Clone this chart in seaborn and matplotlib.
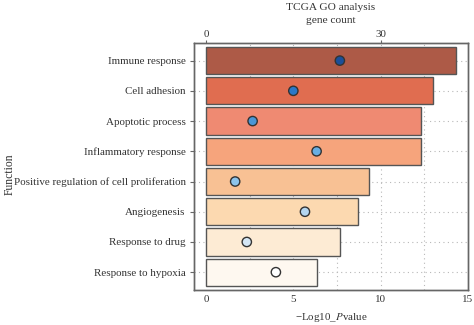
import matplotlib
matplotlib.use("Agg")
import matplotlib.pyplot as plt
import seaborn as sns
import pandas as pd

# GO terms, enrichment significance and gene counts
functions = [
    "Immune response",
    "Cell adhesion",
    "Apoptotic process",
    "Inflammatory response",
    "Positive regulation of cell proliferation",
    "Angiogenesis",
    "Response to drug",
    "Response to hypoxia",
]
neg_log10_p = [14.33, 13.0, 12.32, 12.32, 9.33, 8.69, 7.68, 6.34]
gene_count = [23, 15, 8, 19, 5, 17, 7, 12]

bar_colors = ["#ad5a47", "#e06d50", "#ef8a72", "#f6a47c",
              "#f8c194", "#fcd9b0", "#fdebd4", "#fef8f0"]
dot_colors = ["#1a4f9a", "#2a78c8", "#4a96d6", "#68aee3",
              "#8cc4ec", "#b4d6f0", "#d4e6f5", "#ffffff"]

df = pd.DataFrame({"Function": functions, "p": neg_log10_p, "count": gene_count})

sns.set_style("white")
plt.rcParams["font.family"] = ["Liberation Serif", "DejaVu Serif"]
plt.rcParams["mathtext.fontset"] = "stix"
text_color = "#333333"
frame_color = "#666666"
fs = 7.9

fig = plt.figure(figsize=(4.74, 3.25), dpi=100)
ax = fig.add_axes([0.409, 0.108, 0.578, 0.760])

# dotted grid underneath the bars
for gx in [2.5, 5, 7.5, 10, 12.5]:
    ax.axvline(gx, color="#b8b8b8", lw=0.8, ls=(0, (1, 3)), zorder=0)
for gy in range(len(functions)):
    ax.axhline(gy, color="#b8b8b8", lw=0.8, ls=(0, (1, 3)), zorder=0)

sns.barplot(data=df, y="Function", x="p", hue="Function", palette=bar_colors,
            legend=False, orient="h", width=0.9, edgecolor="#555555",
            linewidth=1.0, saturation=1, ax=ax, zorder=2)

ax.set_xlim(-0.7, 15)
ax.set_ylim(len(functions) - 0.414, -0.586)
ax.set_xticks([0, 5, 10, 15])
ax.set_xticklabels(["0", "5", "10", "15"])
ax.set_xlabel("\u2212Log10_$\\mathit{P}$value", fontsize=fs, color=text_color, labelpad=5)
ax.set_ylabel("Function", fontsize=fs + 0.5, color=text_color)
ax.yaxis.set_label_coords(-0.652, 0.47)
ax.tick_params(axis="y", labelsize=fs, colors=text_color, length=3, width=0.8,
               direction="out", left=True, color=frame_color, pad=3)
ax.tick_params(axis="x", labelsize=fs, colors=text_color, length=0, pad=4)

# gene counts on a twin top axis
ax2 = ax.twiny()
sns.scatterplot(data=df, x="count", y="Function", hue="Function", palette=dot_colors,
                legend=False, s=45, edgecolor="#333333", linewidth=1.0, ax=ax2, zorder=3)
ax2.set_xlim(-2.1, 45)
ax2.set_ylim(len(functions) - 0.414, -0.586)
ax2.set_xticks([0, 30])
ax2.set_xticklabels(["0", "30"])
ax2.set_xlabel("TCGA GO analysis\ngene count", fontsize=fs + 0.3, color=text_color,
               labelpad=5, linespacing=1.5)
ax2.tick_params(axis="x", labelsize=fs, colors=text_color, length=2.5, width=0.8,
                direction="out", color=frame_color, pad=0.5)

for a in (ax, ax2):
    for sp in a.spines.values():
        sp.set_color(frame_color)
        sp.set_linewidth(1.0)

fig.savefig("out.png", dpi=100)
